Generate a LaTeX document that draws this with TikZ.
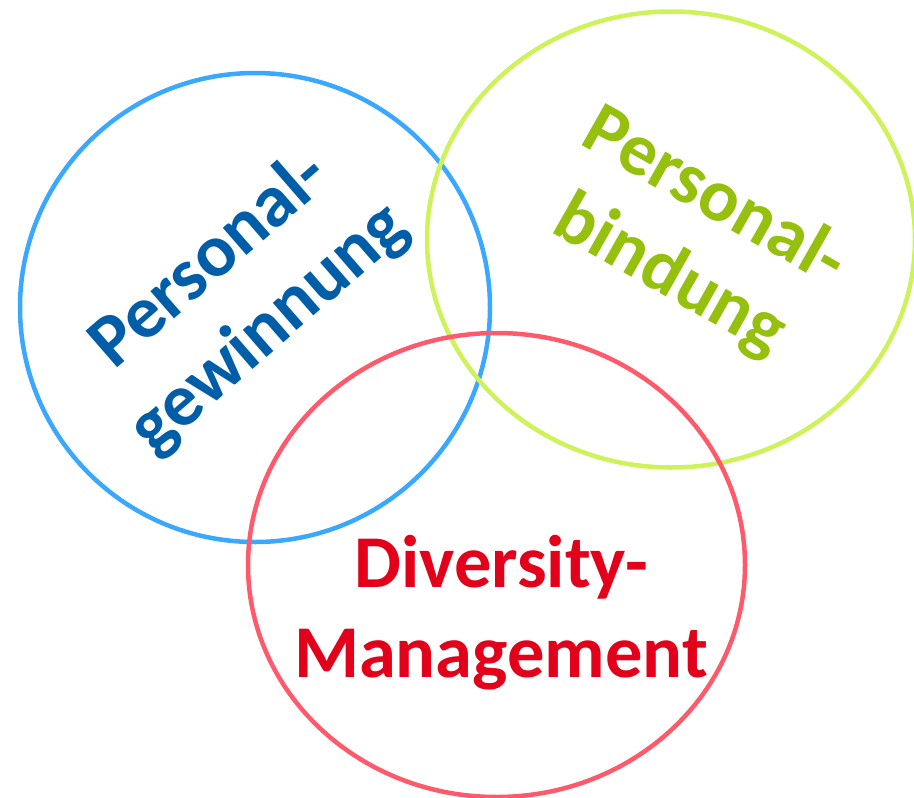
\documentclass[tikz,border=0pt]{standalone}
\usepackage{fontspec}
\setmainfont{Carlito}
\usetikzlibrary{shapes.geometric}
\definecolor{bluering}{HTML}{3AA8FF}
\definecolor{greenring}{HTML}{CEF25A}
\definecolor{redring}{HTML}{FF5A6C}
\definecolor{bluetext}{HTML}{005EA8}
\definecolor{greentext}{HTML}{96C00E}
\definecolor{redtext}{HTML}{E2001A}
\tikzset{
  ring/.style={ellipse, draw, line width=4.5pt, inner sep=0pt, outer sep=0pt},
  label/.style={align=center, inner sep=0pt, font=\fontsize{74.5pt}{90pt}\selectfont\bfseries}
}
\begin{document}
\begin{tikzpicture}[x=1pt,y=-1pt]
\useasboundingbox (0,0) rectangle (914,798);
\node[ring, draw=bluering, minimum width=470pt, minimum height=469pt] (blue) at (255,307.5) {};
\node[ring, draw=greenring, minimum width=488pt, minimum height=456pt] (green) at (671,239.5) {};
\node[ring, draw=redring, minimum width=497pt, minimum height=464pt] (red) at (496.5,565) {};
\node[label, text=bluetext, rotate=41] (gewinnung) at (240,295) {Personal-\\gewinnung};
\node[label, text=greentext, rotate=-29.5] (bindung) at (692,237) {Personal-\\bindung};
\node[label, text=redtext] (diversity) at (501,612.5) {Diversity-\\Management};
\end{tikzpicture}
\end{document}
